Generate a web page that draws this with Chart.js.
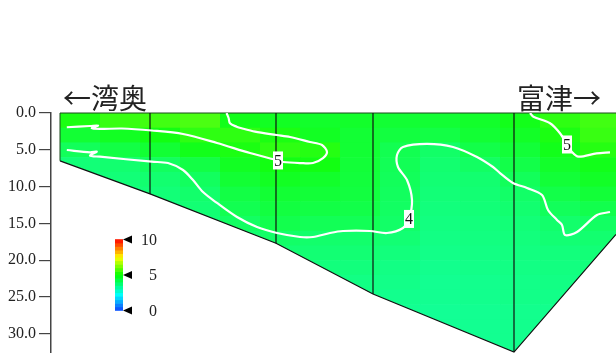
<!DOCTYPE html>
<html>
<head>
<meta charset="utf-8">
<script src="https://cdn.jsdelivr.net/npm/chart.js@4/dist/chart.umd.min.js"></script>
<style>
  html, body { margin: 0; padding: 0; background: #fff; }
  #wrap { width: 616px; height: 353px; position: relative; }
</style>
</head>
<body>
<div id="wrap"><canvas id="section"></canvas></div>
<script>
// Cross-section from the inner bay (湾奥) to Futtsu (富津): distance along the
// section in km, depth in m, values shown with a 0–10 colour scale.

// Section outline: bottom depth along the section
const sectionDist   = [0, 4.5, 10.8, 15.65, 22.7, 27.8];
const sectionBottom = [6.5, 11.0, 17.7, 24.6, 32.5, 16.5];

// Sampling stations (vertical lines)
const stationDist   = [4.5, 10.8, 15.65, 22.7];
const stationBottom = [11.0, 17.7, 24.6, 32.5];

// Gridded field: one column per 2 km of distance, one value per 2 m of depth
const cellWidth = 2;   // km
const cellDepth = 2;   // m
const col00 = [5.1, 4.6, 4.15, 3.8, 3.7];
const col01 = [5.4, 4.8, 4.4, 3.9, 3.8, 3.7];
const col02 = [5.5, 5.0, 4.6, 4.1, 3.9, 3.8, 3.7];
const col03 = [5.6, 5.3, 4.9, 4.4, 4.1, 3.95, 3.85, 3.8];
const col04 = [4.9, 5.3, 5.1, 4.8, 4.6, 4.4, 4.25, 4.05, 3.9];
const col05 = [4.8, 5.1, 5.3, 5.0, 4.8, 4.6, 4.45, 4.3, 4.0, 3.85];
const col06 = [4.7, 4.8, 5.2, 5.0, 4.7, 4.55, 4.4, 4.2, 3.95, 3.85, 3.75, 3.7];
const col07 = [4.7, 4.6, 4.6, 4.55, 4.5, 4.45, 4.35, 4.2, 3.95, 3.85, 3.75, 3.65, 3.6];
const col08 = [4.6, 4.45, 4.25, 4.2, 4.15, 4.1, 4.05, 4.0, 3.85, 3.75, 3.65, 3.6, 3.55, 3.5];
const col09 = [4.6, 4.4, 4.0, 3.9, 3.85, 3.8, 3.75, 3.7, 3.65, 3.6, 3.55, 3.5, 3.5, 3.45, 3.45];
const col10 = [4.7, 4.6, 4.35, 4.05, 3.9, 3.85, 3.8, 3.75, 3.7, 3.65, 3.6, 3.55, 3.55, 3.5, 3.5, 3.5];
const col11 = [4.9, 4.75, 4.55, 4.35, 4.15, 4.0, 3.9, 3.8, 3.75, 3.7, 3.65, 3.6, 3.6, 3.55, 3.55, 3.55, 3.5];
const col12 = [5.3, 5.1, 4.9, 4.7, 4.55, 4.35, 4.15, 3.95, 3.85, 3.75, 3.7, 3.65, 3.6, 3.55, 3.5];
const col13 = [5.5, 5.4, 5.2, 4.9, 4.75, 4.55, 4.3, 4.05, 3.9, 3.8, 3.75, 3.7];
const fieldColumns = [col00, col01, col02, col03, col04, col05, col06,
                      col07, col08, col09, col10, col11, col12, col13];

// Contour lines as [distance km, depth m]
const contour5West = [
  [0.34, 1.94], [1.5, 1.77], [1.9, 1.7], [1.59, 2.08], [2.0, 2.17], [3.09, 2.11],
  [4.59, 2.38], [6.15, 2.85], [7.85, 4.08], [9.5, 5.44], [10.9, 6.45], [11.15, 6.66],
  [12.0, 6.8], [12.65, 6.8], [13.15, 6.12], [13.35, 5.3], [13.1, 4.35], [12.5, 3.94],
  [11.5, 3.26], [10.83, 2.99], [9.75, 2.54], [9.08, 2.08], [8.83, 1.86], [8.5, 1.4],
  [8.43, 0.68], [8.33, 0.0]
];
const contour5East = [
  [23.5, 0.0], [23.67, 0.5], [24.5, 1.4], [25.0, 2.76], [25.35, 4.28], [25.59, 5.26],
  [25.92, 5.94], [26.83, 5.48], [27.5, 5.34]
];
const contour4 = [
  [0.34, 5.03], [1.5, 5.34], [1.84, 5.26], [1.5, 5.8], [2.0, 5.94], [4.59, 6.62],
  [5.4, 6.8], [6.15, 7.75], [6.65, 9.11], [7.15, 10.74], [7.85, 12.23], [8.85, 14.14],
  [9.85, 15.5], [10.85, 16.31], [12.0, 16.85], [12.65, 16.85], [13.5, 16.31],
  [14.15, 16.04], [15.5, 16.04], [16.35, 16.31], [17.15, 15.63], [17.45, 14.4],
  [17.6, 11.83], [17.35, 9.11], [16.9, 7.34], [16.85, 5.71], [17.15, 4.62],
  [18.35, 4.21], [19.65, 4.62], [20.85, 5.98], [21.65, 7.34], [22.0, 8.16],
  [22.65, 9.51], [23.35, 10.19], [24.1, 11.15], [24.4, 13.18], [24.85, 14.54],
  [25.1, 15.22], [25.25, 16.58], [25.85, 16.17], [26.85, 13.86], [27.5, 13.46]
];

// Contour labels: [line, level, index of the labelled point on that line]
const contourLabels = [
  [contour5West, 5, 10],
  [contour5East, 5, 4],
  [contour4, 4, 21]
];

// Depth axis ticks and colour-bar ticks
const depthTicks = [0, 5, 10, 15, 20, 25, 30];
const scaleTicks = [0, 5, 10];
const scaleMin = 0, scaleMax = 10, scaleSteps = 20;

// Colour map (value → RGB)
const cmapStops  = [0, 2.2, 5, 7.5, 10];
const cmapColors = [[16, 64, 255], [0, 255, 255], [0, 255, 0], [255, 255, 0], [255, 0, 0]];

function colourFor(v, lighten) {
  v = Math.max(cmapStops[0], Math.min(cmapStops[cmapStops.length - 1], v));
  let i = 0;
  while (i < cmapStops.length - 2 && v > cmapStops[i + 1]) i++;
  const t = (v - cmapStops[i]) / (cmapStops[i + 1] - cmapStops[i]);
  const a = cmapColors[i], b = cmapColors[i + 1];
  const k = lighten || 0;
  const c = a.map((ch, j) => {
    const m = ch + (b[j] - ch) * t;
    return Math.round(m + (255 - m) * k);
  });
  return `rgb(${c[0]},${c[1]},${c[2]})`;
}

const pts = arr => arr.map(p => ({ x: p[0], y: p[1] }));
const serif = '"Liberation Serif", "Times New Roman", serif';

function sectionPath(ctx, x, y) {
  ctx.beginPath();
  ctx.moveTo(x.getPixelForValue(sectionDist[0]), y.getPixelForValue(0));
  for (let i = 0; i < sectionDist.length; i++) {
    ctx.lineTo(x.getPixelForValue(sectionDist[i]), y.getPixelForValue(sectionBottom[i]));
  }
  ctx.lineTo(x.getPixelForValue(sectionDist[sectionDist.length - 1]), y.getPixelForValue(0));
  ctx.closePath();
}

// Filled cells of the gridded field, clipped to the section outline
const fieldPlugin = {
  id: 'field',
  beforeDatasetsDraw(chart) {
    const { ctx, scales: { x, y } } = chart;
    ctx.save();
    sectionPath(ctx, x, y);
    ctx.clip();
    fieldColumns.forEach((col, c) => {
      const x0 = x.getPixelForValue(c * cellWidth);
      const x1 = x.getPixelForValue((c + 1) * cellWidth);
      col.forEach((v, r) => {
        const y0 = y.getPixelForValue(r * cellDepth);
        const y1 = y.getPixelForValue((r + 1) * cellDepth);
        ctx.fillStyle = colourFor(v, 0.07);
        ctx.fillRect(x0, y0, x1 - x0 + 0.6, y1 - y0 + 0.6);
      });
    });
    ctx.restore();
    // top and west edges of the section
    ctx.save();
    ctx.strokeStyle = '#1d4a1d';
    ctx.lineWidth = 1;
    ctx.beginPath();
    ctx.moveTo(x.getPixelForValue(sectionDist[0]), y.getPixelForValue(sectionBottom[0]));
    ctx.lineTo(x.getPixelForValue(sectionDist[0]), y.getPixelForValue(0));
    ctx.lineTo(x.getPixelForValue(sectionDist[sectionDist.length - 1]), y.getPixelForValue(0));
    ctx.stroke();
    ctx.restore();
  },
  afterDatasetsDraw(chart) {
    const { ctx, scales: { x, y } } = chart;
    ctx.save();
    ctx.font = '16px ' + serif;
    ctx.textAlign = 'center';
    ctx.textBaseline = 'middle';
    contourLabels.forEach(([line, level, idx]) => {
      const px = x.getPixelForValue(line[idx][0]);
      const py = y.getPixelForValue(line[idx][1]);
      ctx.fillStyle = '#fff';
      ctx.fillRect(px - 5, py - 9, 10, 18);
      ctx.fillStyle = '#111';
      ctx.fillText(String(level), px, py + 1);
    });
    ctx.restore();
  },
  afterDraw(chart) {
    const { ctx } = chart;
    ctx.save();
    // colour bar
    const barLeft = 115, barRight = 123, barTop = 239.5, barBottom = 310.5;
    const stepH = (barBottom - barTop) / scaleSteps;
    for (let i = 0; i < scaleSteps; i++) {
      const v = scaleMin + (i + 0.5) * (scaleMax - scaleMin) / scaleSteps;
      ctx.fillStyle = colourFor(v, 0);
      const yb = barBottom - i * stepH;
      ctx.fillRect(barLeft, yb - stepH - 0.3, barRight - barLeft, stepH + 0.6);
    }
    ctx.font = '16px ' + serif;
    ctx.textAlign = 'right';
    ctx.textBaseline = 'middle';
    scaleTicks.forEach(t => {
      const ty = barBottom - (t - scaleMin) / (scaleMax - scaleMin) * (barBottom - barTop);
      ctx.fillStyle = '#000';
      ctx.beginPath();
      ctx.moveTo(barRight, ty);
      ctx.lineTo(barRight + 9, ty - 4);
      ctx.lineTo(barRight + 9, ty + 4);
      ctx.closePath();
      ctx.fill();
      ctx.fillStyle = '#222';
      ctx.fillText(String(t), 157, ty + 1);
    });
    // direction labels
    ctx.font = '28px "Noto Sans CJK JP", sans-serif';
    ctx.fillStyle = '#222';
    ctx.textBaseline = 'middle';
    ctx.textAlign = 'left';
    ctx.fillText('←湾奥', 63, 98);
    ctx.textAlign = 'right';
    ctx.fillText('富津→', 601, 98);
    ctx.restore();
  }
};

const datasets = [
  { data: pts(contour4), borderColor: '#fff', borderWidth: 2.2, tension: 0.3, order: 1 },
  { data: pts(contour5West), borderColor: '#fff', borderWidth: 2.2, tension: 0.3, order: 1 },
  { data: pts(contour5East), borderColor: '#fff', borderWidth: 2.2, tension: 0.3, order: 1 },
  { data: sectionDist.map((d, i) => ({ x: d, y: sectionBottom[i] })),
    borderColor: '#111', borderWidth: 1.2, tension: 0, order: 2 }
].concat(stationDist.map((d, i) => ({
  data: [{ x: d, y: 0 }, { x: d, y: stationBottom[i] }],
  borderColor: '#111', borderWidth: 1.2, tension: 0, order: 2
})));
datasets.forEach(ds => { ds.showLine = true; ds.pointRadius = 0; ds.fill = false; });

new Chart(document.getElementById('section'), {
  type: 'scatter',
  data: { datasets },
  plugins: [fieldPlugin],
  options: {
    responsive: true,
    maintainAspectRatio: false,
    devicePixelRatio: 1,
    animation: false,
    events: [],
    layout: { padding: { top: 113, left: 0, right: 0, bottom: 0 } },
    plugins: { legend: { display: false }, tooltip: { enabled: false } },
    scales: {
      x: { type: 'linear', min: -0.45, max: 27.8, display: false },
      y: {
        type: 'linear', reverse: true, min: 0, max: 32.62,
        afterBuildTicks: s => { s.ticks = depthTicks.map(v => ({ value: v })); },
        afterFit: s => { s.width = 51; s.paddingTop = 0; s.paddingBottom = 0; },
        ticks: {
          padding: 3, color: '#222',
          font: { family: serif, size: 16 },
          callback: v => Number(v).toFixed(1)
        },
        grid: { drawOnChartArea: false, drawTicks: true, tickLength: 12, color: '#444', lineWidth: 1.2 },
        border: { display: true, color: '#444', width: 1.5 }
      }
    }
  }
});
</script>
</body>
</html>
